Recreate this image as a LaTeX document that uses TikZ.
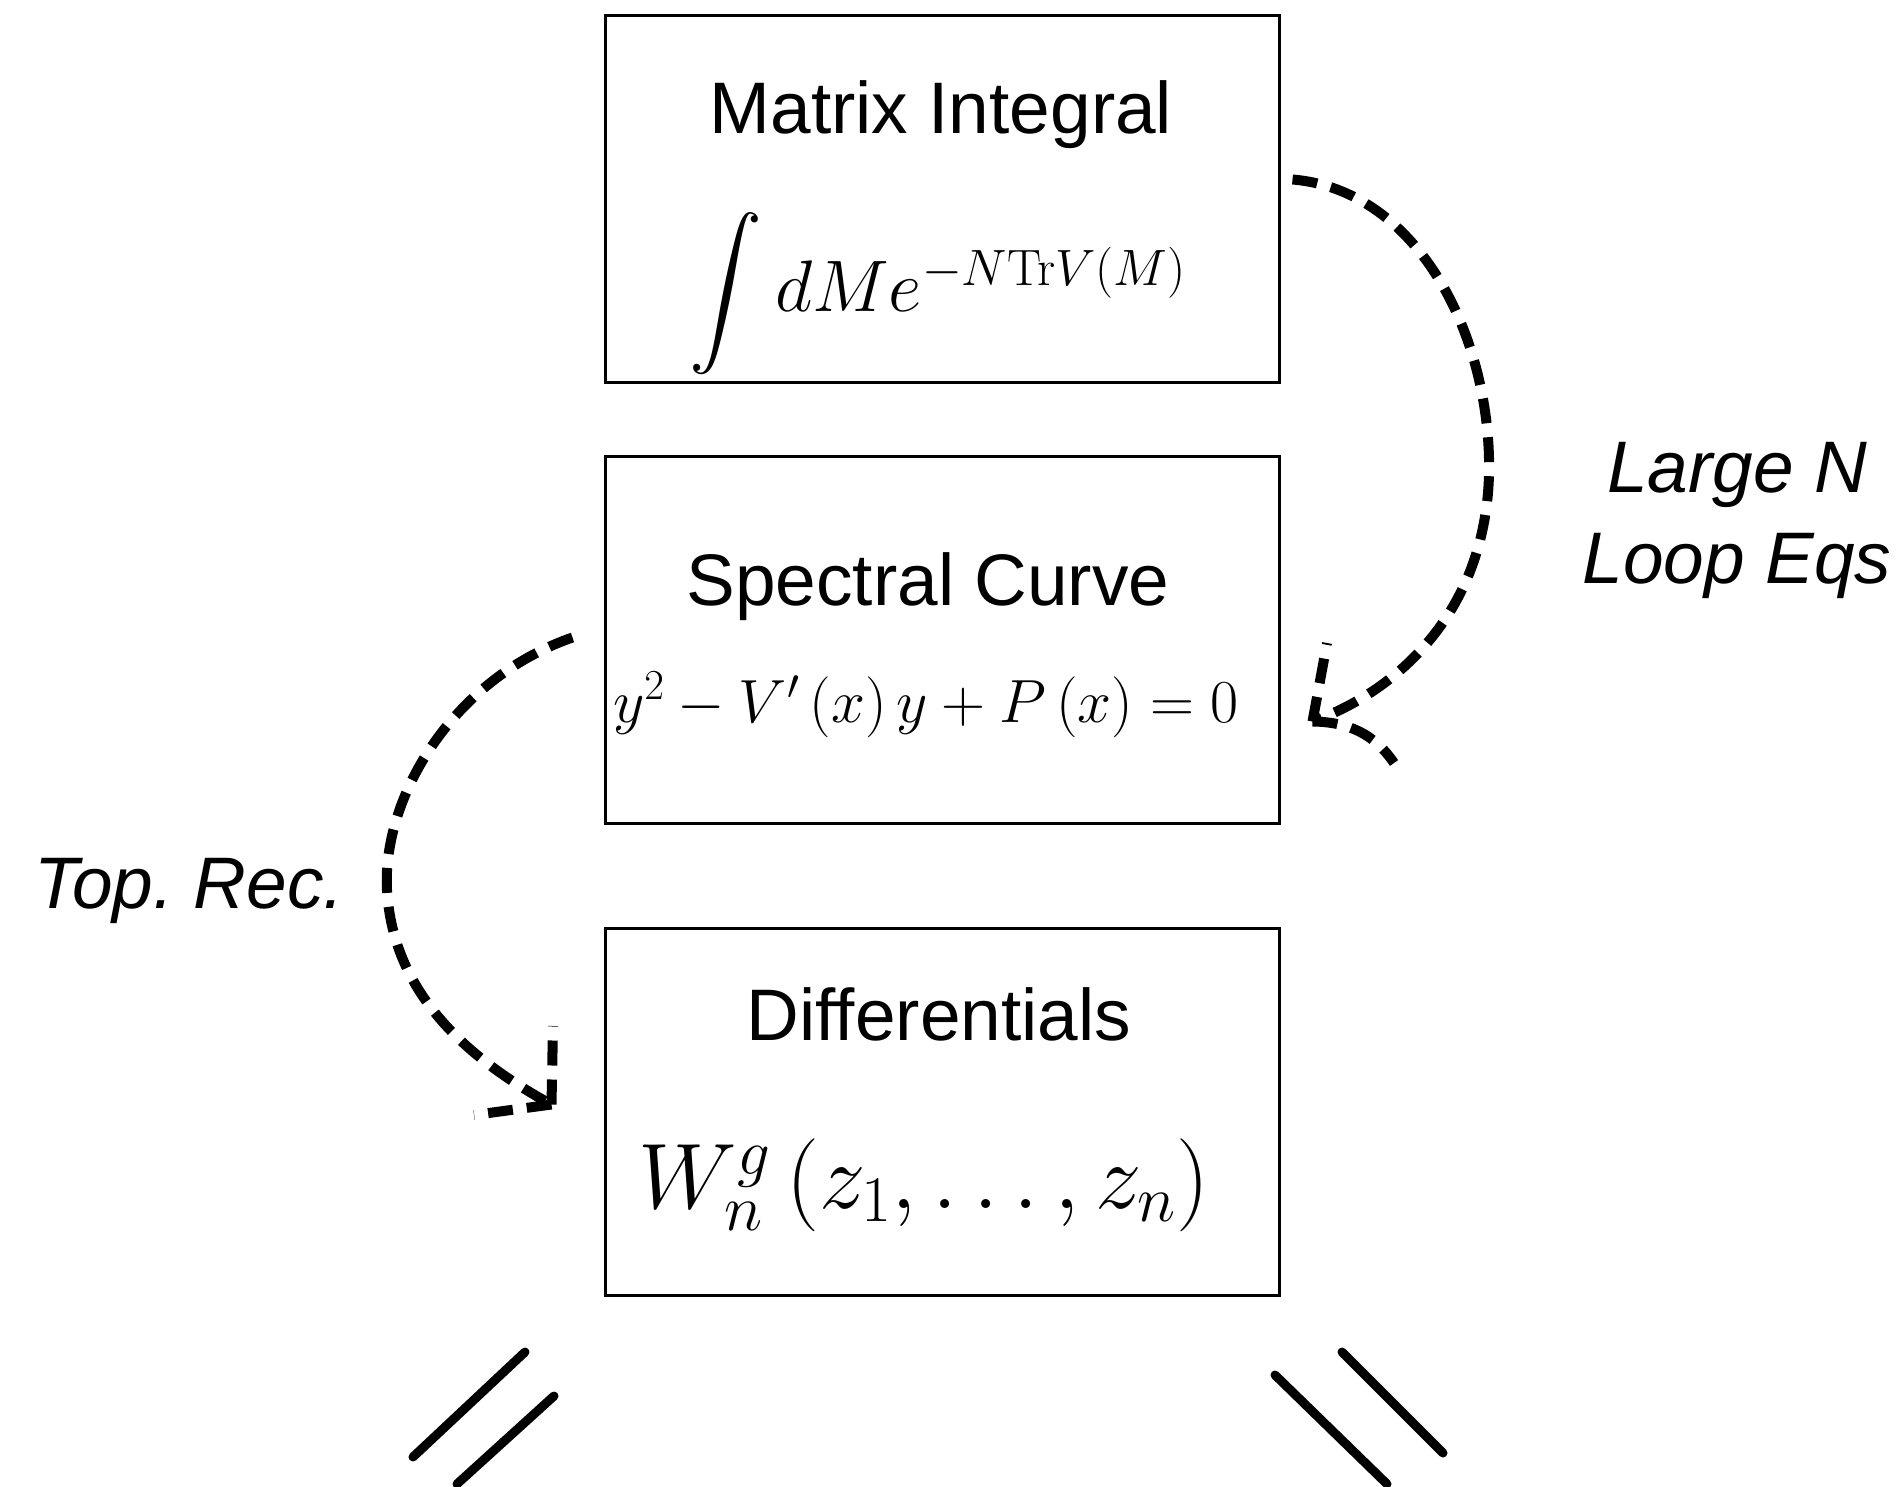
\RequirePackage{fix-cm}
\documentclass[tikz,border=0pt]{standalone}
\usepackage{graphicx}
\usepackage[no-math]{fontspec}
\setmainfont{Liberation Sans}
\usetikzlibrary{calc}
\newcommand{\bigintsym}{\mathop{\hbox{\scalebox{7.3}{\fontsize{10}{12}\selectfont$\displaystyle\int$}}}}
\begin{document}
\begin{tikzpicture}[x=1pt,y=-1pt,
  box/.style={draw,line width=3pt,minimum width=674pt,minimum height=367pt,inner sep=0pt},
  ttl/.style={font=\fontsize{73}{80}\selectfont,anchor=base,inner sep=0pt},
  lbl/.style={font=\fontsize{73}{80}\selectfont\itshape\frenchspacing,anchor=base,inner sep=0pt},
  eqA/.style={font=\fontsize{73}{80}\selectfont,anchor=base,inner sep=0pt},
  eqB/.style={font=\fontsize{61}{66}\selectfont,anchor=base,inner sep=0pt},
  eqC/.style={font=\fontsize{93}{100}\selectfont,anchor=base,inner sep=0pt},
  flow/.style={line width=10pt,dash pattern=on 25pt off 14pt},
  bar/.style={line width=9pt,line cap=round}]
\useasboundingbox[fill=white] (0,0) rectangle (1904,1487);
% boxes
\node[box] (mi) at (942,199.5) {};
\node[box] (sc) at (942,639.5) {};
\node[box] (df) at (942,1111.5) {};
% texts
\node[ttl] (mit) at (941,134) {Matrix Integral};
\node[eqA] (mie) at (938,312) {$\bigintsym dM e^{-N\mathrm{Tr}V(M)}$};
\node[ttl] (sct) at (928,605) {Spectral Curve};
\node[eqB] (sce) at (926,722) {$y^2-V'\left(x\right)y+P\left(x\right)=0$};
\node[ttl] (dft) at (939,1040) {Differentials};
\node[eqC] (dfe) at (924,1208) {$W_n^g\left(z_1,\ldots,z_n\right)$};
% labels
\node[lbl] (ln1) at (1737,492) {Large N};
\node[lbl] (ln2) at (1737,583) {Loop Eqs};
\node[lbl] (tr) at (189,908) {Top. Rec.};
% right arrow
\coordinate (r0) at ($(mi.east)+(12,-20)$);
\coordinate (r1) at ($(sc.east)+(32,82)$);
\draw[flow] (r0) .. controls (1420,190) and (1492,340) .. (1489,475)
  .. controls (1485,610) and (1400,690) .. (r1);
\draw[flow] (r1) -- (1327,643);
\draw[flow] (r1) .. controls (1350,722) and (1375,735) .. (1394,763);
% left arrow
\coordinate (l0) at ($(sc.west)+(-31,-2)$);
\coordinate (l1) at ($(df.west)+(-52,-7)$);
\draw[flow] (l0) .. controls (450,680) and (382,800) .. (387,890)
  .. controls (393,995) and (470,1060) .. (l1);
\draw[flow] (l1) -- (553,1026);
\draw[flow] (l1) -- (474,1115);
% bottom strokes
\draw[bar] (413,1457) -- (525,1352);
\draw[bar] (457,1484) -- (554,1396);
\draw[bar] (1275,1375) -- (1387,1484);
\draw[bar] (1342,1352) -- (1443,1453);
\end{tikzpicture}
\end{document}
